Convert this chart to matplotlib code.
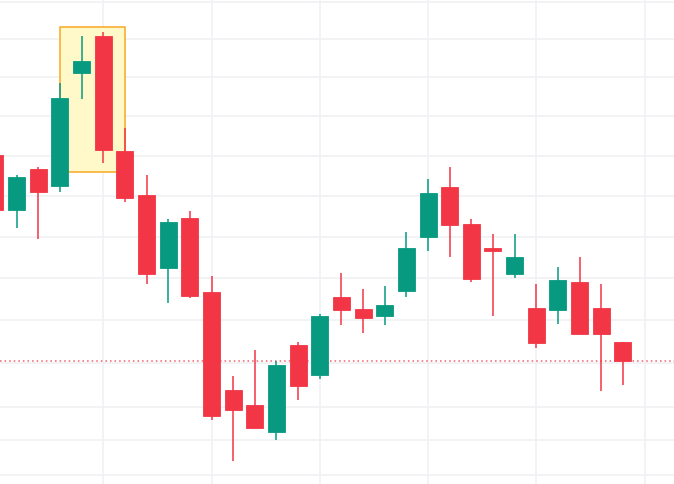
import matplotlib
matplotlib.use("Agg")
import matplotlib.pyplot as plt
from matplotlib.patches import Rectangle

# price values (chart units)
opens = [329, 274, 315, 298, 411, 448, 333, 289, 216, 266, 192, 94, 79, 52, 139, 109,
         187, 175, 168, 193, 247, 297, 260, 236, 210, 176, 174, 202, 176, 142]
highs = [331, 309, 317, 401, 448, 452, 356, 309, 265, 273, 208, 108, 134, 123, 142, 170,
         211, 195, 198, 252, 305, 317, 265, 250, 250, 200, 217, 227, 200, 142]
lows = [272, 256, 245, 292, 385, 321, 282, 200, 181, 186, 64, 23, 56, 44, 84, 105,
        159, 151, 159, 187, 233, 227, 202, 168, 206, 136, 160, 150, 93, 99]
closes = [274, 307, 292, 386, 423, 334, 286, 210, 262, 188, 68, 74, 56, 119, 98, 168,
          174, 166, 179, 236, 291, 259, 205, 233, 227, 141, 204, 150, 150, 123]

last_price = 123
hl_start, hl_end = 3, 6      # highlighted candles (candle index range)
hl_low, hl_high = 312, 457
grid_y = [482, 445, 407, 368, 328, 288, 247, 206, 164, 121, 77, 44, 9]
grid_x = [5, 10, 15, 20, 25, 30]

green = "#089981"
red = "#F23645"

fig = plt.figure(figsize=(6.74, 4.84), dpi=100)
ax = fig.add_axes([0, 0, 1, 1])

for gy in grid_y:
    ax.axhline(gy, color="#F0F1F4", lw=1.2, zorder=0)
for gx in grid_x:
    ax.axvline(gx, color="#F0F1F4", lw=1.2, zorder=0)

# highlight box behind the candles
ax.add_patch(Rectangle((hl_start, hl_low), hl_end - hl_start, hl_high - hl_low,
                       facecolor="#FFF8C8", edgecolor="#F9A825", lw=1.1, zorder=1))

ax.axhline(last_price, color=red, lw=1.1, ls=(0, (1, 2)), alpha=0.8, zorder=2)

w = 0.785
for i, (o, h, l, c) in enumerate(zip(opens, highs, lows, closes)):
    col = green if c >= o else red
    ax.vlines(i, l, h, color=col, lw=1.1, zorder=3)
    ax.add_patch(Rectangle((i - w / 2, min(o, c)), w, max(abs(c - o), 1.5),
                           facecolor=col, edgecolor=col, lw=0.6, zorder=4))

ax.set_xlim(0.231, 31.36)
ax.set_ylim(0, 484)
ax.axis("off")

fig.savefig("out.png", dpi=100, facecolor="white")
